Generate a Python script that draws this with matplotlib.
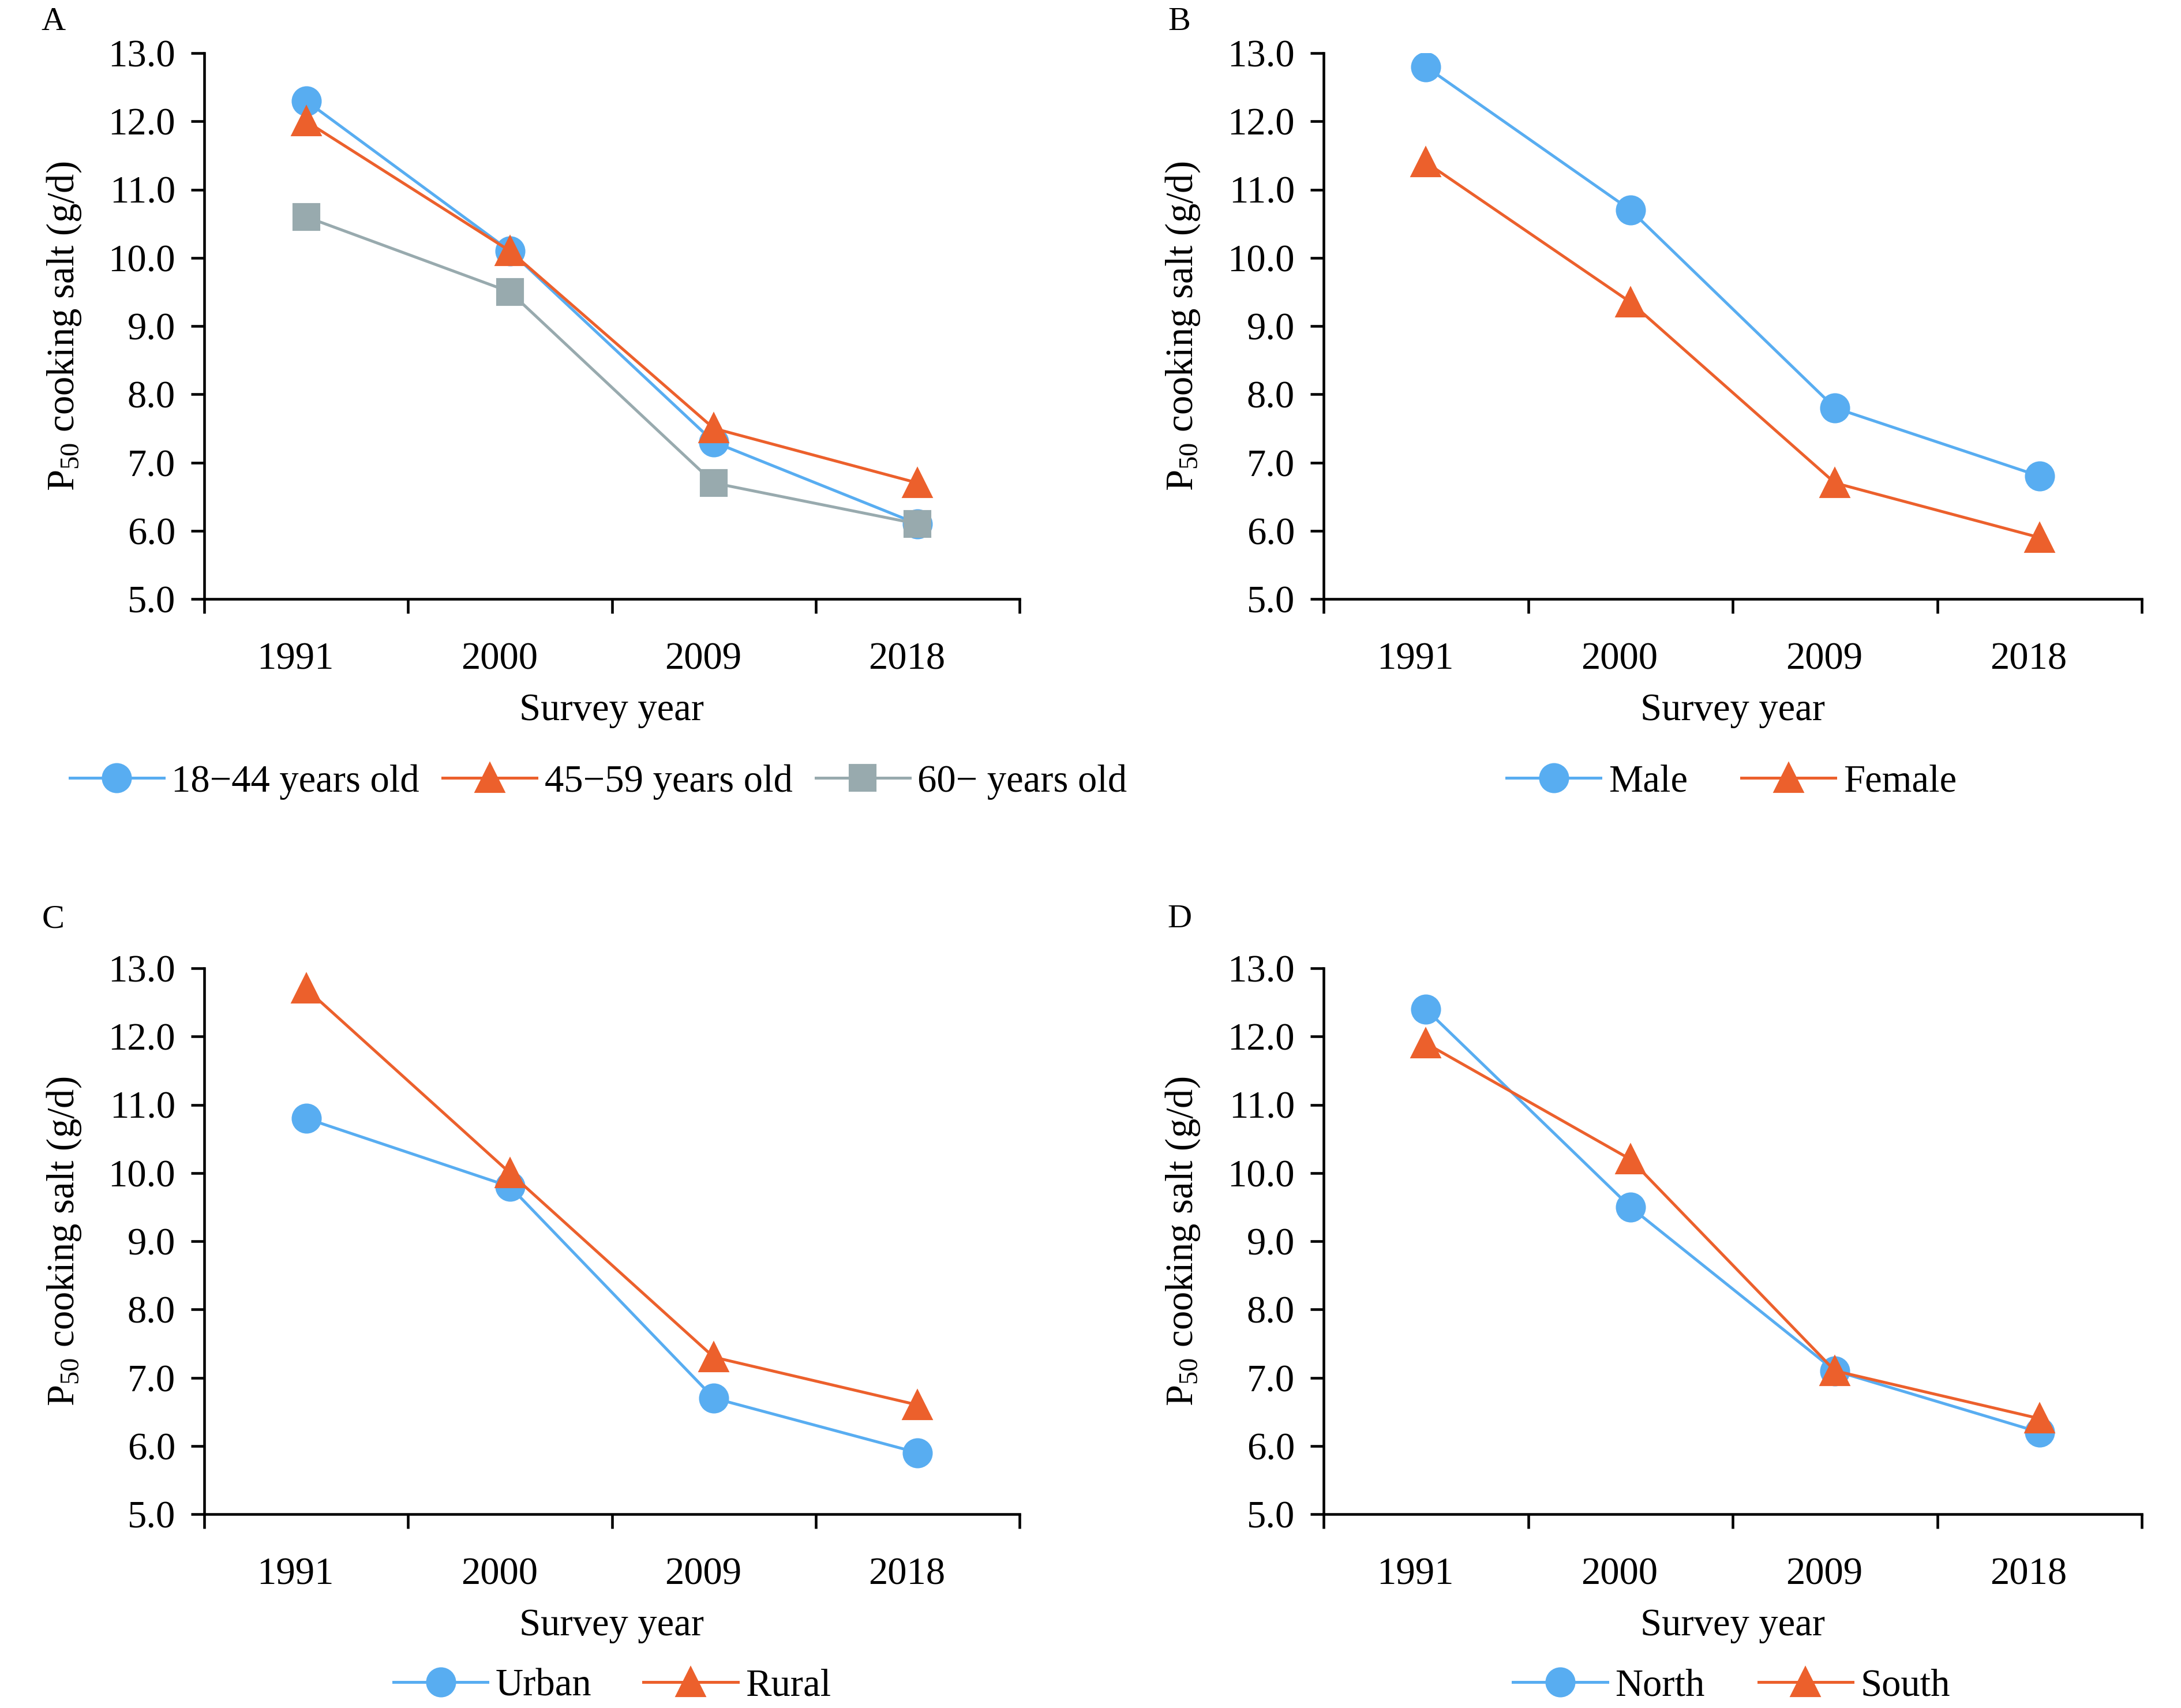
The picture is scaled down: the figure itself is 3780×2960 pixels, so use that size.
import numpy as np
import matplotlib.pyplot as plt
from matplotlib.transforms import ScaledTranslation

plt.rcParams['font.family'] = ['Liberation Serif', 'DejaVu Serif']
plt.rcParams['mathtext.fontset'] = 'custom'
plt.rcParams['mathtext.rm'] = 'Liberation Serif'
plt.rcParams['mathtext.it'] = 'Liberation Serif:italic'

years = ['1991', '2000', '2009', '2018']
yticks = [5.0, 6.0, 7.0, 8.0, 9.0, 10.0, 11.0, 12.0, 13.0]

# A - age groups
age_labels = ['18\u221244 years old', '45\u221259 years old', '60\u2212 years old']
age_18_44 = [12.3, 10.1, 7.3, 6.1]
age_45_59 = [12.0, 10.1, 7.5, 6.7]
age_60 = [10.6, 9.5, 6.7, 6.1]

# B - sex
sex_labels = ['Male', 'Female']
male = [12.8, 10.7, 7.8, 6.8]
female = [11.4, 9.35, 6.7, 5.9]

# C - area
area_labels = ['Urban', 'Rural']
urban = [10.8, 9.8, 6.7, 5.9]
rural = [12.7, 10.0, 7.3, 6.6]

# D - region
region_labels = ['North', 'South']
north = [12.4, 9.5, 7.1, 6.2]
south = [11.9, 10.2, 7.1, 6.4]

blue = '#58adf1'
orange = '#ec602c'
gray = '#98aaae'
styles = [(blue, 'o', 11.5), (orange, '^', 11.5), (gray, 's', 10.4)]

fig = plt.figure(figsize=(12.6, 2960 / 300), dpi=300)

W, H = 3780, 2960
def axes_at(x0, x1, y0, y1):
    return fig.add_axes([x0 / W, 1 - y1 / H, (x1 - x0) / W, (y1 - y0) / H])


def panel(ax, series, labels, letter, letter_xy, leg_xy, colspace):
    x = np.arange(1, len(years) + 1)
    for vals, lab, (c, m, ms) in zip(series, labels, styles):
        ax.plot(x, vals, color=c, lw=1.2, marker=m, ms=ms, mec=c, mfc=c, label=lab)
    ax.set_xlim(0.5, 4.5)
    ax.set_ylim(5, 13)
    ax.set_yticks(yticks)
    ax.set_yticklabels(['%.1f' % v for v in yticks])
    ax.set_xticks(x)
    ax.set_xticklabels(years)
    ax.set_xticks(np.arange(0.5, 4.6, 1.0), minor=True)
    ax.tick_params(axis='x', which='major', length=0, pad=18, labelsize=16)
    ax.tick_params(axis='x', which='minor', length=6, width=1.1, direction='out')
    ax.tick_params(axis='y', length=5.5, width=1.1, direction='out', pad=6.5, labelsize=16)
    off = ScaledTranslation(-4.5 / 72, 0, fig.dpi_scale_trans)
    for lbl in ax.get_xticklabels():
        lbl.set_transform(lbl.get_transform() + off)
    for s in ['top', 'right']:
        ax.spines[s].set_visible(False)
    for s in ['left', 'bottom']:
        ax.spines[s].set_linewidth(1.1)
    ax.set_xlabel('Survey year', fontsize=16, va='center')
    ax.xaxis.set_label_coords(0.5, -0.205)
    ax.set_ylabel(r'P$_{\mathrm{50}}$ cooking salt (g/d)', fontsize=16, va='center')
    ax.yaxis.set_label_coords(-0.172, 0.5)
    fig.text(letter_xy[0] / W, 1 - letter_xy[1] / H, letter, fontsize=14,
             ha='center', va='center')
    fig.legend(handles=ax.get_lines(), loc='center', ncol=len(labels),
               bbox_to_anchor=(leg_xy[0] / W, 1 - leg_xy[1] / H), frameon=False,
               fontsize=16, handlelength=2.45, handletextpad=0.2,
               columnspacing=colspace, borderpad=0)


axA = axes_at(354, 1767, 92, 1038)
axB = axes_at(2294, 3712, 92, 1038)
axC = axes_at(354, 1767, 1678, 2624)
axD = axes_at(2294, 3712, 1678, 2624)

panel(axA, [age_18_44, age_45_59, age_60], age_labels, 'A', (92, 38), (1037, 1355), 0.6)
panel(axB, [male, female], sex_labels, 'B', (2044, 38), (3001, 1355), 1.4)
panel(axC, [urban, rural], area_labels, 'C', (92, 1593), (1061, 2922), 1.35)
panel(axD, [north, south], region_labels, 'D', (2044, 1593), (3001, 2922), 1.4)

fig.savefig('out.png', dpi=300)
